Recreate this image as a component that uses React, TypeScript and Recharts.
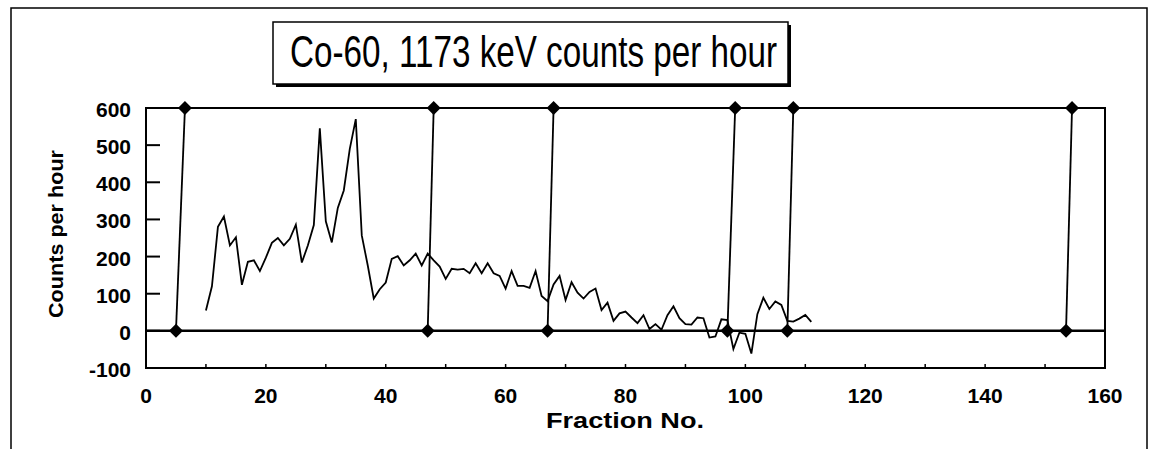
import { ComposedChart, Line, XAxis, YAxis, ReferenceArea, ReferenceLine } from 'recharts';

const fractionNo = [
  10, 11, 12, 13, 14, 15, 16, 17, 18, 19, 20, 21, 22, 23, 24, 25, 26, 27, 28, 29,
  30, 31, 32, 33, 34, 35, 36, 37, 38, 39, 40, 41, 42, 43, 44, 45, 46, 47, 48, 49,
  50, 51, 52, 53, 54, 55, 56, 57, 58, 59, 60, 61, 62, 63, 64, 65, 66, 67, 68, 69,
  70, 71, 72, 73, 74, 75, 76, 77, 78, 79, 80, 81, 82, 83, 84, 85, 86, 87, 88, 89,
  90, 91, 92, 93, 94, 95, 96, 97, 98, 99, 100, 101, 102, 103, 104, 105, 106, 107, 108, 109,
  110, 111,
];

const countsPerHour = [
  55, 120, 280, 308, 230, 252, 124, 186, 190, 161, 197, 237, 250, 230, 248, 286, 184, 230, 285, 545,
  295, 238, 331, 378, 490, 570, 257, 176, 87, 112, 130, 194, 201, 176, 190, 208, 176, 208, 190, 173,
  140, 167, 165, 167, 155, 182, 155, 182, 155, 148, 114, 161, 121, 121, 116, 161, 94, 80, 125, 148,
  83, 131, 103, 87, 105, 114, 56, 76, 27, 47, 52, 36, 21, 42, 5, 18, 3, 42, 66, 34,
  18, 17, 36, 34, -18, -15, 31, 29, -49, -5, -8, -61, 45, 89, 59, 79, 70, 27, 25, 33,
  43, 24,
];

// boundary markers: bottom diamond at 0, top diamond at 600
const boundaryStart = [5, 47, 67, 97, 107, 153.5];
const boundaryEnd = [6.5, 48, 68, 98.3, 108, 154.5];
const boundaryLow = 0;
const boundaryHigh = 600;

const xTicks = [0, 10, 20, 30, 40, 50, 60, 70, 80, 90, 100, 110, 120, 130, 140, 150, 160];
const yTicks = [-100, 0, 100, 200, 300, 400, 500, 600];

const FONT = '"Liberation Sans", Arial, Helvetica, sans-serif';

const countData = fractionNo.map((f, i) => ({ x: f, y: countsPerHour[i] }));
const segments = boundaryStart.map((s, i) => [
  { x: s, y: boundaryLow },
  { x: boundaryEnd[i], y: boundaryHigh },
]);

function Diamond({ cx, cy }: { cx?: number; cy?: number }) {
  if (cx == null || cy == null) return null;
  const r = 7;
  return <path d={`M${cx},${cy - r}L${cx + r},${cy}L${cx},${cy + r}L${cx - r},${cy}Z`} fill="#000" />;
}

function YTick({ x, y, payload }: { x?: number; y?: number; payload?: { value: number } }) {
  if (x == null || y == null || !payload) return null;
  return (
    <g>
      <line x1={x + 15} x2={x + 29} y1={y} y2={y} stroke="#000" strokeWidth={2} />
      <text x={x} y={y} dy={9} textAnchor="end" fontSize={21} fontWeight="bold" fontFamily={FONT} fill="#000">
        {payload.value}
      </text>
    </g>
  );
}

function XTick({ x, y, payload }: { x?: number; y?: number; payload?: { value: number } }) {
  if (x == null || y == null || !payload) return null;
  return (
    <g>
      <line x1={x} x2={x} y1={y} y2={y - 4} stroke="#000" strokeWidth={1.5} />
      {payload.value % 20 === 0 && (
        <text x={x} y={y} dy={35} textAnchor="middle" fontSize={21} fontWeight="bold" fontFamily={FONT} fill="#000">
          {payload.value}
        </text>
      )}
    </g>
  );
}

export default function App() {
  return (
    <div style={{ position: 'absolute', left: 0, top: 0, width: 1155, height: 449, background: '#fff' }}>
      <ComposedChart width={1155} height={449} margin={{ top: 108, right: 50, left: 0, bottom: 51 }}>
        <XAxis dataKey="x" type="number" domain={[0, 160]} ticks={xTicks} interval={0}
          axisLine={false} tickLine={false} tickSize={0} tickMargin={0} height={30} tick={<XTick />} />
        <YAxis type="number" domain={[-100, 600]} ticks={yTicks} interval={0}
          axisLine={false} tickLine={false} tickSize={0} tickMargin={15} width={146} tick={<YTick />} />

        <ReferenceArea x1={0} x2={160} y1={-100} y2={600} fill="none" stroke="#000" strokeWidth={2} />
        <ReferenceLine y={0} stroke="#000" strokeWidth={2.5} />

        <Line data={countData} dataKey="y" type="linear" stroke="#000" strokeWidth={1.8}
          dot={false} activeDot={false} isAnimationActive={false} />

        {segments.map((seg, i) => (
          <Line key={i} data={seg} dataKey="y" type="linear" stroke="#000" strokeWidth={1.8}
            dot={<Diamond />} activeDot={false} isAnimationActive={false} />
        ))}
      </ComposedChart>

      <svg width={1155} height={449} style={{ position: 'absolute', left: 0, top: 0, pointerEvents: 'none' }}>
        {/* outer frame, open at the bottom */}
        <path d="M11,449 L11,8 L1147,8 L1147,449" fill="none" stroke="#000" strokeWidth={1.5} />

        {/* title box with drop shadow */}
        <rect x={276} y={25} width={515} height={62} fill="#000" />
        <rect x={273} y={22} width={515} height={62} fill="#fff" stroke="#000" strokeWidth={1.5} />
        <text x={290} y={67} fontSize={44} fontFamily={FONT} fill="#000" textLength={487} lengthAdjust="spacingAndGlyphs">
          Co-60, 1173 keV counts per hour
        </text>

        <text x={625} y={428} textAnchor="middle" fontSize={22} fontWeight="bold" fontFamily={FONT} fill="#000"
          textLength={158} lengthAdjust="spacingAndGlyphs">
          Fraction No.
        </text>
        <text transform="translate(63,234) rotate(-90)" textAnchor="middle" fontSize={21} fontWeight="bold"
          fontFamily={FONT} fill="#000" textLength={168} lengthAdjust="spacingAndGlyphs">
          Counts per hour
        </text>
      </svg>
    </div>
  );
}
